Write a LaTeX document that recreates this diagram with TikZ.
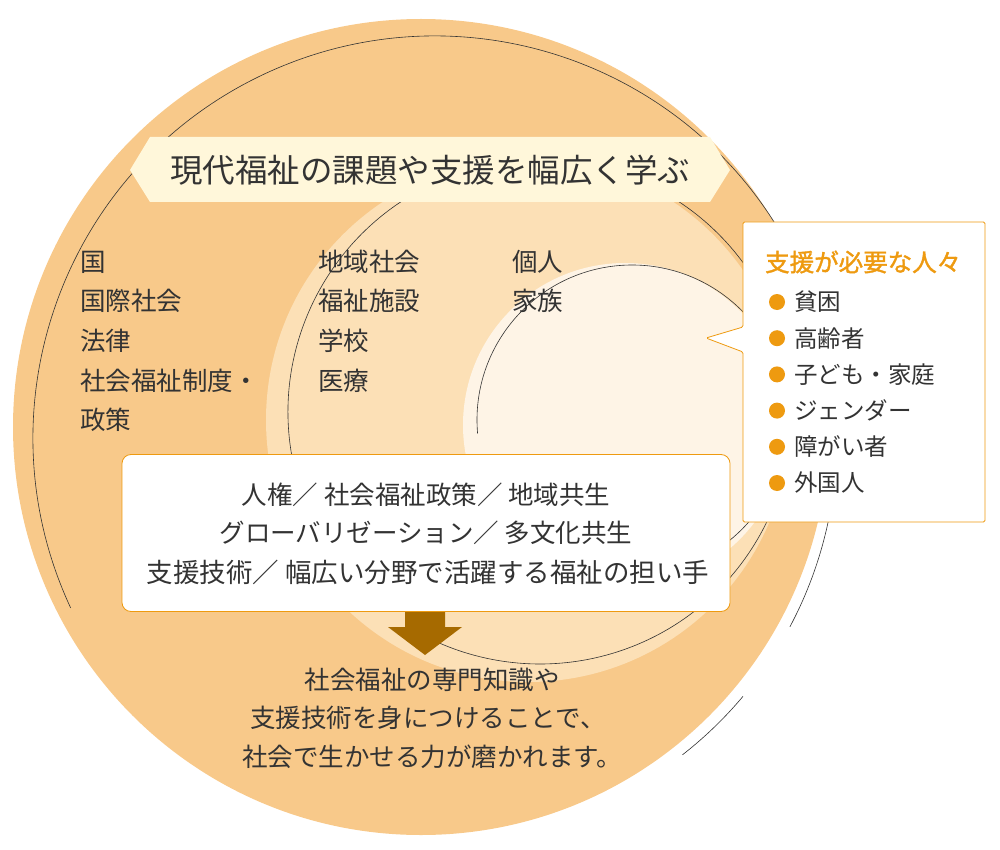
\documentclass[tikz,border=0pt]{standalone}
\usepackage{fontspec}
\setmainfont{Noto Sans CJK JP}
\newfontfamily\jpb[FakeBold=1.5]{Noto Sans CJK JP}
\definecolor{outerc}{HTML}{F8C98A}
\definecolor{midc}{HTML}{FCE0B6}
\definecolor{innc}{HTML}{FEF4E6}
\definecolor{hdr}{HTML}{FFF7DA}
\definecolor{org}{HTML}{EE9A10}
\definecolor{brn}{HTML}{A66A00}
\definecolor{txt}{HTML}{333333}
\begin{document}
\begin{tikzpicture}[x=1pt,y=-1pt,
  thin line/.style={draw=black!80,line width=0.6pt},
  lbl/.style={anchor=west,inner sep=0,font=\fontsize{25.5}{25.5}\selectfont,text=txt},
  ctr/.style={inner sep=0,font=\fontsize{25.5}{25.5}\selectfont,text=txt},
  itm/.style={anchor=west,inner sep=0,font=\fontsize{23.5}{23.5}\selectfont,text=txt}]
\useasboundingbox (0,0) rectangle (1000,850);
% circles
\fill[outerc] (421,427) circle (408);
\draw[thin line] (435,438) ++(-205:402) arc (-205:28:402);
\draw[thin line] (435,438) ++(40:402) arc (40:52:402);
\fill[midc] (528,420) circle (262);
\draw[thin line] (540,412) ++(-195:252) arc (-195:115:252);
\fill[innc] (625,425) circle (162);
\draw[thin line] (632,420) ++(-185:155) arc (-185:105:155);
% header
\fill[hdr] (150,137) -- (710,137) -- (730,170) -- (710,202) -- (150,202) -- (130,170) -- cycle;
\node[ctr,font=\fontsize{32.5}{32.5}\selectfont] (title) at (430,170) {現代福祉の課題や支援を幅広く学ぶ};
% left texts
\node[lbl] (l1) at (80,262) {国};
\node[lbl] (l2) at (80,301) {国際社会};
\node[lbl] (l3) at (80,341) {法律};
\node[lbl] (l4) at (80,381) {社会福祉制度・};
\node[lbl] (l5) at (80,420) {政策};
\node[lbl] (m1) at (318,262) {地域社会};
\node[lbl] (m2) at (318,301) {福祉施設};
\node[lbl] (m3) at (318,341) {学校};
\node[lbl] (m4) at (318,381) {医療};
\node[lbl] (r1) at (512,262) {個人};
\node[lbl] (r2) at (512,301) {家族};
% arrow
\fill[brn] (405,600) -- (445,600) -- (445,627) -- (462,627) -- (425,655) -- (388,627) -- (405,627) -- cycle;
% center box
\node[draw=org,fill=white,rounded corners=9pt,line width=0.8pt,minimum width=608pt,minimum height=157pt,inner sep=0] (cbox) at (426,533) {};
\node[ctr] (c1) at (426,495) {人権／ 社会福祉政策／ 地域共生};
\node[ctr] (c2) at (426,533) {グローバリゼーション／ 多文化共生};
\node[ctr,font=\fontsize{26.5}{26.5}\selectfont] (c3) at (428,572) {支援技術／ 幅広い分野で活躍する福祉の担い手};
% bottom text
\node[ctr] (b1) at (432,680) {社会福祉の専門知識や};
\node[ctr] (b2) at (428,718) {支援技術を身につけることで、};
\node[ctr] (b3) at (432,757) {社会で生かせる力が磨かれます。};
% callout
\draw[org,fill=white,line width=0.8pt,rounded corners=1.5pt] (743,222) -- (985,222) -- (985,522) -- (743,522) -- (743,352) -- (706,338) -- (743,327) -- cycle;
\node[anchor=west,inner sep=0,text=org,font=\jpb\fontsize{24.5}{24.5}\selectfont] (ct) at (765,262) {支援が必要な人々};
\foreach \t [count=\i] in {貧困,高齢者,子ども・家庭,ジェンダー,障がい者,外国人}{
  \fill[org] (777,{302+36.2*(\i-1)}) circle (8);
  \node[itm] (it\i) at (794,{302+36.2*(\i-1)}) {\t};
}
\end{tikzpicture}
\end{document}
